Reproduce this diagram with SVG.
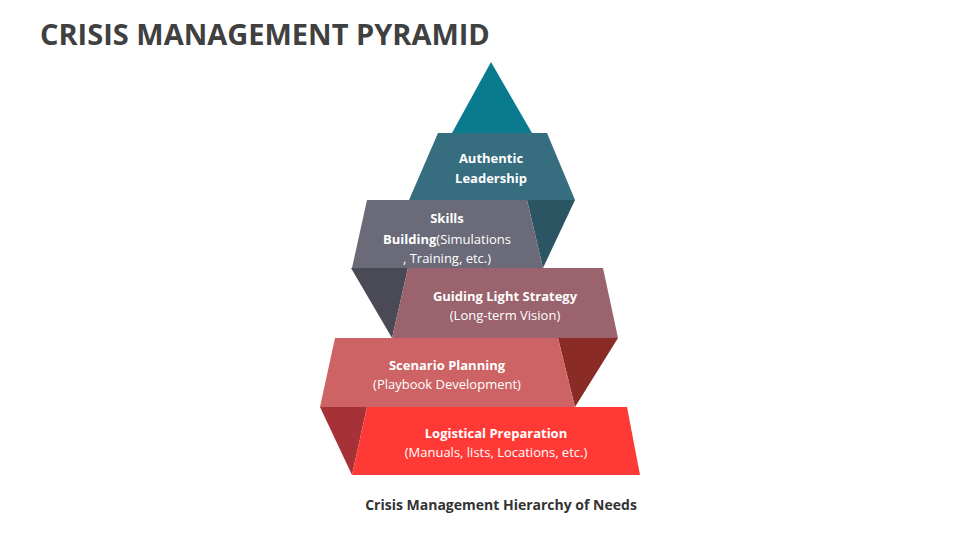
<svg xmlns="http://www.w3.org/2000/svg" width="960" height="540" viewBox="0 0 960 540">
<style>
text{font-family:"Open Sans","Liberation Sans",sans-serif;fill:#fff;text-anchor:middle}
.b{font-weight:bold;font-size:13px}
.n{font-size:13px}
</style>
<rect width="960" height="540" fill="#fff"/>
<text x="40" y="45" style="fill:#404040;text-anchor:start;font-weight:bold;font-size:29px">CRISIS MANAGEMENT PYRAMID</text>
<g id="tip"><polygon points="491,62 532,133 452,133" fill="#0A7A8F"/></g>
<g id="sides">
<polygon points="527,200 575,200 543,268" fill="#2C5563"/>
<polygon points="351,268 408,268 392,338" fill="#4A4A56"/>
<polygon points="558,338 618,338 575,407" fill="#8A2B26"/>
<polygon points="320,407 367,407 352,475" fill="#A63238"/>
</g>
<g id="authentic"><polygon points="438,133 547,133 575,200 409,200" fill="#366E80"/>
<text class="b" x="491" y="163">Authentic</text><text class="b" x="491" y="183">Leadership</text></g>
<g id="skills"><polygon points="367,200 527,200 543,268 352,268" fill="#6A6A78"/>
<text class="b" x="447" y="223">Skills</text>
<text x="447" y="244" class="n"><tspan font-weight="bold">Building</tspan>(Simulations</text>
<text class="n" x="447" y="263">, Training, etc.)</text></g>
<g id="guiding"><polygon points="408,268 603,268 618,338 392,338" fill="#9A636D"/>
<text class="b" x="505" y="301">Guiding Light Strategy</text><text class="n" x="505" y="320">(Long-term Vision)</text></g>
<g id="scenario"><polygon points="335,338 558,338 575,407 320,407" fill="#CD6365"/>
<text class="b" x="447" y="370">Scenario Planning</text><text class="n" x="447" y="389">(Playbook Development)</text></g>
<g id="logistical"><polygon points="367,407 627,407 640,475 352,475" fill="#FF3A36"/>
<text class="b" x="496" y="438">Logistical Preparation</text><text class="n" x="496" y="457">(Manuals, lists, Locations, etc.)</text></g>
<text x="501" y="510" style="fill:#333;font-weight:bold;font-size:14px">Crisis Management Hierarchy of Needs</text>
</svg>
